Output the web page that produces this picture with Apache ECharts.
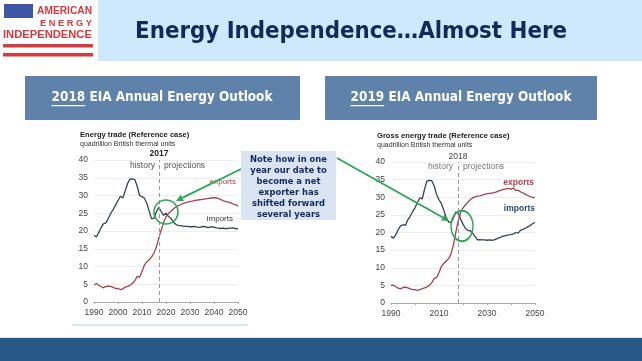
<!DOCTYPE html>
<html>
<head>
<meta charset="utf-8">
<script src="https://cdn.jsdelivr.net/npm/echarts@6/dist/echarts.min.js"></script>
<style>
  html, body { margin: 0; padding: 0; background: #fff; }
  #chart { width: 642px; height: 361px; }
</style>
</head>
<body>
<div id="chart"></div>
<script>
// years on the x axis, 1990..2050
const years = [];
for (let y = 1990; y <= 2050; y++) years.push(y);

// AEO 2018 reference case, quadrillion Btu
const imports2018 = [
  18.8, 18.3, 19.6, 21.0, 22.1, 22.3, 23.6, 25.0, 26.1, 27.3,
  28.6, 29.8, 29.3, 31.3, 33.4, 34.6, 34.7, 34.5, 32.6, 30.0,
  29.7, 29.2, 27.8, 25.6, 23.4, 23.6, 25.4, 26.7, 25.5, 24.4,
  25.0, 24.1, 23.6, 22.6, 21.9, 21.6, 21.5, 21.4, 21.3, 21.3,
  21.2, 21.2, 21.3, 21.1, 21.0, 21.2, 21.3, 21.0, 21.0, 21.2,
  21.1, 20.9, 20.8, 20.7, 20.8, 20.6, 20.8, 20.8, 20.9, 20.7,
  20.6
];
const exports2018 = [
  4.8, 5.2, 4.7, 4.3, 4.0, 4.4, 4.5, 4.4, 4.1, 3.8,
  3.8, 3.5, 3.7, 4.2, 4.4, 4.7, 5.2, 6.0, 7.2, 7.0,
  8.6, 10.4, 11.3, 11.9, 12.7, 13.8, 15.6, 18.0, 20.3, 22.4,
  24.0, 24.9, 25.5, 26.2, 26.7, 27.1, 27.4, 27.7, 27.9, 28.1,
  28.3, 28.4, 28.6, 28.7, 28.8, 28.9, 29.0, 29.1, 29.2, 29.3,
  29.4, 29.3, 29.1, 28.8, 28.5, 28.3, 28.1, 27.9, 27.6, 27.4,
  27.1
];

// AEO 2019 reference case
const imports2019 = [
  18.9, 18.4, 19.4, 20.8, 21.9, 22.2, 22.0, 23.6, 24.6, 25.9,
  27.0, 28.5, 29.8, 29.5, 32.3, 34.6, 34.8, 34.7, 33.2, 30.8,
  29.3, 28.2, 26.3, 24.2, 23.0, 22.8, 24.2, 25.8, 25.5, 23.8,
  22.3, 21.2, 20.6, 20.5, 19.8, 18.9, 17.9, 18.0, 17.9, 17.9,
  17.8, 17.9, 17.8, 17.9, 18.2, 18.5, 18.8, 19.0, 19.2, 19.3,
  19.4, 19.6, 20.0, 19.8, 20.7, 20.9, 21.2, 21.6, 22.0, 22.5,
  22.9
];
const exports2019 = [
  5.0, 5.1, 4.6, 4.2, 4.0, 4.4, 4.5, 4.3, 4.0, 3.8,
  3.8, 3.6, 3.7, 4.1, 4.3, 4.6, 5.0, 5.8, 7.0, 7.2,
  8.6, 10.4, 11.2, 11.9, 12.6, 13.9, 16.5, 20.0, 23.3, 25.6,
  27.0, 27.8, 28.6, 29.3, 29.8, 30.1, 30.3, 30.4, 30.6, 30.8,
  31.0, 31.1, 31.2, 31.3, 31.5, 31.8, 32.0, 32.2, 32.4, 32.5,
  32.3, 32.6, 31.9, 32.0, 31.5, 31.2, 30.8, 30.5, 30.2, 30.0,
  29.8
];

const xLabels2018 = [1990, 2000, 2010, 2020, 2030, 2040, 2050];
const xLabels2019 = [1990, 2010, 2030, 2050];
const splitYear2018 = 2017;
const splitYear2019 = 2018;

const calloutLines = [
  'Note how in one',
  'year our date to',
  'become a net',
  'exporter has',
  'shifted forward',
  'several years'
];

const chart = echarts.init(document.getElementById('chart'));

const SLIDE_FONT = '"DejaVu Sans Condensed", "DejaVu Sans", sans-serif';
const CHART_FONT = '"Liberation Sans", Arial, sans-serif';
const GREEN = '#2aa655';

// measure text so slide text can be sized to the widths in the picture
const mctx = document.createElement('canvas').getContext('2d');
function textWidth(str, weight, size, family) {
  mctx.font = weight + ' ' + size + 'px ' + family;
  return mctx.measureText(str).width;
}
function fitSize(str, weight, family, target) {
  return 100 * target / textWidth(str, weight, 100, family);
}

const pairs = vals => years.map((y, i) => [y, vals[i]]);

function arrow(x1, y1, x2, y2) {
  const a = Math.atan2(y2 - y1, x2 - x1);
  const len = 7, half = 3.5;
  const bx = x2 - len * Math.cos(a), by = y2 - len * Math.sin(a);
  return [
    { type: 'line', z: 100, shape: { x1, y1, x2: bx, y2: by },
      style: { stroke: GREEN, lineWidth: 1.8 } },
    { type: 'polygon', z: 100,
      shape: { points: [[x2, y2],
        [bx + half * Math.sin(a), by - half * Math.cos(a)],
        [bx - half * Math.sin(a), by + half * Math.cos(a)]] },
      style: { fill: GREEN } }
  ];
}

function subtitle(year, cx, cy) {
  const rest = ' EIA Annual Energy Outlook';
  const size = fitSize(year + rest, 'bold', SLIDE_FONT, 221);
  const wYear = textWidth(year, 'bold', size, SLIDE_FONT);
  const wAll = textWidth(year + rest, 'bold', size, SLIDE_FONT);
  const x0 = cx - wAll / 2;
  return [
    { type: 'text', x: x0, y: cy,
      style: { text: year + rest, fill: '#fff', font: 'bold ' + size + 'px ' + SLIDE_FONT,
        textAlign: 'left', textVerticalAlign: 'middle' } },
    { type: 'rect', shape: { x: x0, y: cy + size * 0.52, width: wYear, height: 1.3 },
      style: { fill: '#fff' } }
  ];
}

const titleText = 'Energy Independence\u2026Almost Here';
const titleSize = fitSize(titleText, 'bold', SLIDE_FONT, 432);

const graphics = [
  // top banner and logo
  { type: 'rect', z: -10, shape: { x: 98, y: 0, width: 544, height: 61 }, style: { fill: '#cde9fb' } },
  { type: 'text', x: 351, y: 32, style: { text: titleText, fill: '#14285a',
      font: 'bold ' + titleSize + 'px ' + SLIDE_FONT, textAlign: 'center', textVerticalAlign: 'middle' } },
  { type: 'rect', shape: { x: 4, y: 4, width: 29, height: 14 }, style: { fill: '#3f55a6' } },
  { type: 'text', x: 92, y: 11, style: { text: 'AMERICAN', fill: '#d8383f',
      font: 'bold ' + fitSize('AMERICAN', 'bold', CHART_FONT, 55) + 'px ' + CHART_FONT,
      textAlign: 'right', textVerticalAlign: 'middle' } },
  { type: 'text', x: 92, y: 23, style: { text: 'E N E R G Y', fill: '#d8383f',
      font: 'bold ' + fitSize('E N E R G Y', 'bold', CHART_FONT, 52) + 'px ' + CHART_FONT,
      textAlign: 'right', textVerticalAlign: 'middle' } },
  { type: 'text', x: 3, y: 35, style: { text: 'INDEPENDENCE', fill: '#d8383f',
      font: 'bold ' + fitSize('INDEPENDENCE', 'bold', CHART_FONT, 89) + 'px ' + CHART_FONT,
      textAlign: 'left', textVerticalAlign: 'middle' } },
  { type: 'rect', shape: { x: 3, y: 44, width: 90, height: 3.5 }, style: { fill: '#d8383f' } },
  { type: 'rect', shape: { x: 3, y: 53, width: 90, height: 3.5 }, style: { fill: '#d8383f' } },

  // subtitle boxes
  { type: 'rect', z: -10, shape: { x: 25, y: 76, width: 275, height: 44 }, style: { fill: '#5f82ab' } },
  { type: 'rect', z: -10, shape: { x: 325, y: 76, width: 272, height: 44 }, style: { fill: '#5f82ab' } },
  ...subtitle('2018', 162, 98),
  ...subtitle('2019', 461, 98),

  // chart headers
  { type: 'text', x: 80, y: 135, style: { text: 'Energy trade (Reference case)', fill: '#222',
      font: 'bold 7.6px ' + CHART_FONT, textVerticalAlign: 'middle' } },
  { type: 'text', x: 80, y: 144, style: { text: 'quadrillion British thermal units', fill: '#333',
      font: '7px ' + CHART_FONT, textVerticalAlign: 'middle' } },
  { type: 'text', x: 377, y: 136, style: { text: 'Gross energy trade (Reference case)', fill: '#222',
      font: 'bold 7.6px ' + CHART_FONT, textVerticalAlign: 'middle' } },
  { type: 'text', x: 377, y: 145, style: { text: 'quadrillion British thermal units', fill: '#333',
      font: '7px ' + CHART_FONT, textVerticalAlign: 'middle' } },

  // history / projections
  { type: 'text', x: 159, y: 154, style: { text: '2017', fill: '#222', font: 'bold 8.5px ' + CHART_FONT,
      textAlign: 'center', textVerticalAlign: 'middle' } },
  { type: 'text', x: 155, y: 166, style: { text: 'history', fill: '#555', font: '8.5px ' + CHART_FONT,
      textAlign: 'right', textVerticalAlign: 'middle' } },
  { type: 'text', x: 164, y: 166, style: { text: 'projections', fill: '#555', font: '8.5px ' + CHART_FONT,
      textAlign: 'left', textVerticalAlign: 'middle' } },
  { type: 'text', x: 458, y: 157, style: { text: '2018', fill: '#444', font: '8.5px ' + CHART_FONT,
      textAlign: 'center', textVerticalAlign: 'middle' } },
  { type: 'text', x: 453, y: 167, style: { text: 'history', fill: '#777', font: '8.5px ' + CHART_FONT,
      textAlign: 'right', textVerticalAlign: 'middle' } },
  { type: 'text', x: 463, y: 167, style: { text: 'projections', fill: '#777', font: '8.5px ' + CHART_FONT,
      textAlign: 'left', textVerticalAlign: 'middle' } },

  // series names
  { type: 'text', x: 236, y: 182, style: { text: 'exports', fill: '#a3404f', font: '8px ' + CHART_FONT,
      textAlign: 'right', textVerticalAlign: 'middle' } },
  { type: 'text', x: 233, y: 219, style: { text: 'imports', fill: '#333', font: '8px ' + CHART_FONT,
      textAlign: 'right', textVerticalAlign: 'middle' } },
  { type: 'text', x: 534, y: 183, style: { text: 'exports', fill: '#b23a55', font: 'bold 8.5px ' + CHART_FONT,
      textAlign: 'right', textVerticalAlign: 'middle' } },
  { type: 'text', x: 535, y: 209, style: { text: 'imports', fill: '#2b4a6b', font: 'bold 8.5px ' + CHART_FONT,
      textAlign: 'right', textVerticalAlign: 'middle' } },

  // rule under left chart and bottom bar
  { type: 'rect', shape: { x: 72, y: 324.5, width: 176, height: 1.3 }, style: { fill: '#bde2e2' } },
  { type: 'rect', shape: { x: 0, y: 338, width: 642, height: 23 }, style: { fill: '#2a5886' } },
  { type: 'rect', shape: { x: 0, y: 337, width: 642, height: 1 }, style: { fill: '#cfe6ef' } },

  // callout
  { type: 'rect', z: 90, shape: { x: 241, y: 151, width: 95, height: 69 }, style: { fill: '#dbe4f3' } },
  ...calloutLines.map((t, i) => ({ type: 'text', z: 91, x: 288.5, y: 160 + i * 11,
      style: { text: t, fill: '#14285a', font: 'bold 9.3px ' + SLIDE_FONT,
        textAlign: 'center', textVerticalAlign: 'middle' } })),

  // highlight circles and arrows
  { type: 'circle', z: 100, shape: { cx: 166, cy: 212, r: 12 },
    style: { fill: 'none', stroke: GREEN, lineWidth: 1.6 } },
  { type: 'circle', z: 100, x: 462, y: 226, scaleY: 1.38, shape: { cx: 0, cy: 0, r: 11 },
    style: { fill: 'none', stroke: GREEN, lineWidth: 1.4 } },
  ...arrow(241, 169, 176, 201),
  ...arrow(337, 158, 449, 221)
];

function axisPair(labels) {
  return {
    x: {
      type: 'value', min: 1990, max: 2050, interval: 10,
      axisLine: { lineStyle: { color: '#aaa' } },
      axisTick: { length: 2, lineStyle: { color: '#aaa' } },
      splitLine: { show: false },
      axisLabel: { color: '#444', fontSize: 8.5, fontFamily: CHART_FONT, margin: 6,
        formatter: v => labels.includes(v) ? String(v) : '' }
    },
    y: {
      type: 'value', min: 0, max: 40, interval: 5,
      axisLine: { show: false }, axisTick: { show: false },
      splitLine: { lineStyle: { color: '#eeeeee' } },
      axisLabel: { color: '#444', fontSize: 8.5, fontFamily: CHART_FONT, margin: 6 }
    }
  };
}
const ax18 = axisPair(xLabels2018);
const ax19 = axisPair(xLabels2019);

function dashed(year) {
  return { silent: true, symbol: 'none', label: { show: false },
    lineStyle: { color: '#999', type: [4, 3], width: 1 }, data: [{ xAxis: year }] };
}

const option = {
  animation: false,
  textStyle: { fontFamily: CHART_FONT },
  grid: [
    { left: 94, top: 160, width: 144, height: 142 },
    { left: 391, top: 162, width: 144, height: 141 }
  ],
  xAxis: [Object.assign({ gridIndex: 0 }, ax18.x), Object.assign({ gridIndex: 1 }, ax19.x)],
  yAxis: [Object.assign({ gridIndex: 0 }, ax18.y), Object.assign({ gridIndex: 1 }, ax19.y)],
  series: [
    { name: 'imports 2018', type: 'line', xAxisIndex: 0, yAxisIndex: 0, data: pairs(imports2018),
      showSymbol: false, lineStyle: { color: '#36434e', width: 1.3 }, markLine: dashed(splitYear2018) },
    { name: 'exports 2018', type: 'line', xAxisIndex: 0, yAxisIndex: 0, data: pairs(exports2018),
      showSymbol: false, lineStyle: { color: '#a3404f', width: 1.3 } },
    { name: 'imports 2019', type: 'line', xAxisIndex: 1, yAxisIndex: 1, data: pairs(imports2019),
      showSymbol: false, lineStyle: { color: '#36434e', width: 1.3 }, markLine: dashed(splitYear2019) },
    { name: 'exports 2019', type: 'line', xAxisIndex: 1, yAxisIndex: 1, data: pairs(exports2019),
      showSymbol: false, lineStyle: { color: '#a3404f', width: 1.3 } }
  ],
  graphic: graphics
};

chart.setOption(option);
</script>
</body>
</html>
